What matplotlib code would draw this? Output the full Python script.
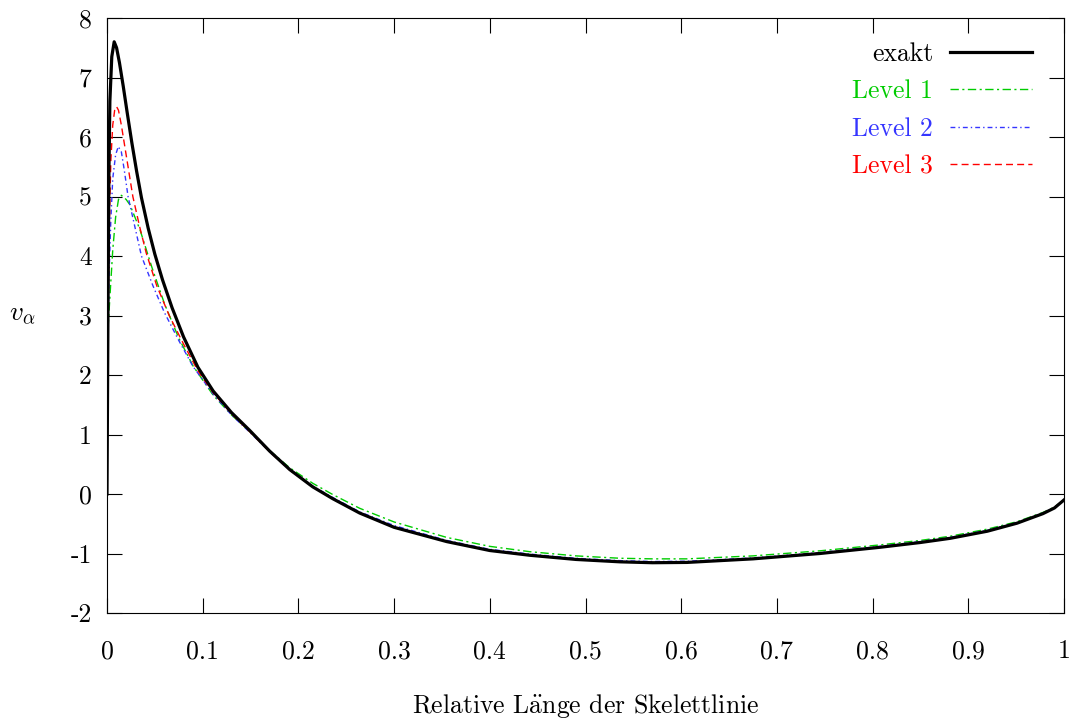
import numpy as np
import matplotlib
matplotlib.use("Agg")
import matplotlib.pyplot as plt

# exakt (black)
x_exakt = [0, 0.001, 0.002, 0.003, 0.005, 0.0075, 0.010, 0.013, 0.017, 0.021, 0.026,
           0.031, 0.036, 0.043, 0.050, 0.058, 0.068, 0.080, 0.095, 0.111, 0.130, 0.149,
           0.170, 0.191, 0.215, 0.236, 0.264, 0.30, 0.355, 0.40, 0.442, 0.49, 0.536,
           0.57, 0.606, 0.675, 0.745, 0.808, 0.85, 0.881, 0.92, 0.951, 0.978, 0.99, 1.0]
y_exakt = [0, 3.0, 5.4, 6.6, 7.35, 7.6, 7.5, 7.25, 6.85, 6.42, 5.9,
           5.42, 4.98, 4.47, 4.03, 3.6, 3.13, 2.64, 2.13, 1.73, 1.37, 1.07,
           0.72, 0.41, 0.12, -0.08, -0.32, -0.56, -0.80, -0.95, -1.03, -1.10, -1.14,
           -1.155, -1.15, -1.09, -1.0, -0.895, -0.815, -0.745, -0.625, -0.49, -0.33, -0.235, -0.10]

# tail grid shared by the level curves
x_tail = [0.111, 0.130, 0.149, 0.170, 0.191, 0.215, 0.236, 0.264, 0.30, 0.355, 0.40,
          0.442, 0.49, 0.536, 0.57, 0.606, 0.675, 0.745, 0.808, 0.85, 0.881, 0.92,
          0.951, 0.978, 0.99, 1.0]

# Level 1 (green)
x_l1 = [0, 0.003, 0.006, 0.009, 0.012, 0.015, 0.020, 0.024, 0.0345, 0.0467, 0.060, 0.075, 0.090] + x_tail
y_l1 = [2.5, 3.3, 4.1, 4.65, 4.95, 5.02, 4.95, 4.86, 4.44, 3.82, 3.2, 2.62, 2.15,
        1.66, 1.33, 1.05, 0.73, 0.44, 0.18, -0.01, -0.24, -0.47, -0.73, -0.88,
        -0.97, -1.04, -1.08, -1.09, -1.09, -1.04, -0.955, -0.855, -0.78, -0.71, -0.59,
        -0.465, -0.31, -0.22, -0.10]

# Level 2 (blue)
x_l2 = [0, 0.002, 0.004, 0.006, 0.009, 0.0118, 0.015, 0.018, 0.022, 0.029, 0.036, 0.048, 0.060, 0.075, 0.090] + x_tail
y_l2 = [2.0, 3.6, 4.6, 5.3, 5.7, 5.84, 5.75, 5.45, 5.0, 4.5, 4.0, 3.5, 3.05, 2.58, 2.14,
        1.68, 1.33, 1.04, 0.71, 0.41, 0.13, -0.06, -0.30, -0.53, -0.78, -0.93,
        -1.01, -1.08, -1.12, -1.135, -1.13, -1.075, -0.985, -0.88, -0.80, -0.73, -0.61,
        -0.48, -0.32, -0.23, -0.10]

# Level 3 (red)
x_l3 = [0, 0.002, 0.004, 0.006, 0.008, 0.010, 0.012, 0.015, 0.020, 0.027, 0.034, 0.041, 0.052, 0.065, 0.080, 0.095] + x_tail
y_l3 = [1.3, 4.2, 5.6, 6.2, 6.45, 6.51, 6.45, 6.2, 5.7, 5.0, 4.5, 4.05, 3.5, 3.0, 2.52, 2.07,
        1.7, 1.35, 1.05, 0.71, 0.40, 0.12, -0.08, -0.32, -0.56, -0.80, -0.945,
        -1.025, -1.095, -1.135, -1.15, -1.145, -1.085, -0.995, -0.89, -0.81, -0.74, -0.62,
        -0.485, -0.325, -0.23, -0.10]

x_ticks = [0, 0.1, 0.2, 0.3, 0.4, 0.5, 0.6, 0.7, 0.8, 0.9, 1]
x_ticklabels = ["0", "0.1", "0.2", "0.3", "0.4", "0.5", "0.6", "0.7", "0.8", "0.9", "1"]
y_ticks = [-2, -1, 0, 1, 2, 3, 4, 5, 6, 7, 8]

plt.rcParams['font.family'] = ['cmr10', 'DejaVu Serif']
plt.rcParams['mathtext.fontset'] = 'cm'
plt.rcParams['axes.unicode_minus'] = False
plt.rcParams['axes.formatter.use_mathtext'] = True

fs = 18.5
green = '#00cc00'
blue = '#3535ff'
red = '#ff0000'

fig = plt.figure(figsize=(10.72, 7.21), dpi=100)
ax = fig.add_axes([107/1072, 1-613/721, 957/1072, 595/721])

ax.plot(x_exakt, y_exakt, color='black', lw=2.3, label='exakt', zorder=5)
ax.plot(x_l1, y_l1, color=green, lw=1.0, ls=(0, (6, 2.5, 1.5, 2.5)), label='Level 1')
ax.plot(x_l2, y_l2, color=blue, lw=1.0, ls=(0, (3.5, 2.2, 1, 2.2)), label='Level 2')
ax.plot(x_l3, y_l3, color=red, lw=1.0, ls=(0, (5, 3)), label='Level 3')

ax.set_xlim(0, 1)
ax.set_ylim(-2, 8)
ax.set_xticks(x_ticks)
ax.set_xticklabels(x_ticklabels)
ax.set_yticks(y_ticks)
ax.set_yticklabels([str(v) for v in y_ticks])
ax.tick_params(direction='in', length=11, width=0.8, top=True, right=True, labelsize=fs)
ax.tick_params(axis='x', pad=19)
ax.tick_params(axis='y', pad=11)
for s in ax.spines.values():
    s.set_linewidth(0.8)

ax.set_xlabel(r'Relative L$\ddot{\mathrm{a}}$nge der Skelettlinie', fontsize=fs)
ax.xaxis.set_label_coords(0.5, -0.132)
ax.set_ylabel(r'$v_\alpha$', fontsize=fs + 1, rotation=0, va='center', ha='center')
ax.yaxis.set_label_coords(-0.089, 0.5)

leg = ax.legend(loc='upper right', bbox_to_anchor=(0.9666, 0.959), frameon=False,
                markerfirst=False, fontsize=fs, handlelength=3.2, handletextpad=0.65,
                labelspacing=0.53, borderpad=0, borderaxespad=0)
for t, c in zip(leg.get_texts(), ['black', green, blue, red]):
    t.set_color(c)

fig.savefig('out.png', dpi=100)
